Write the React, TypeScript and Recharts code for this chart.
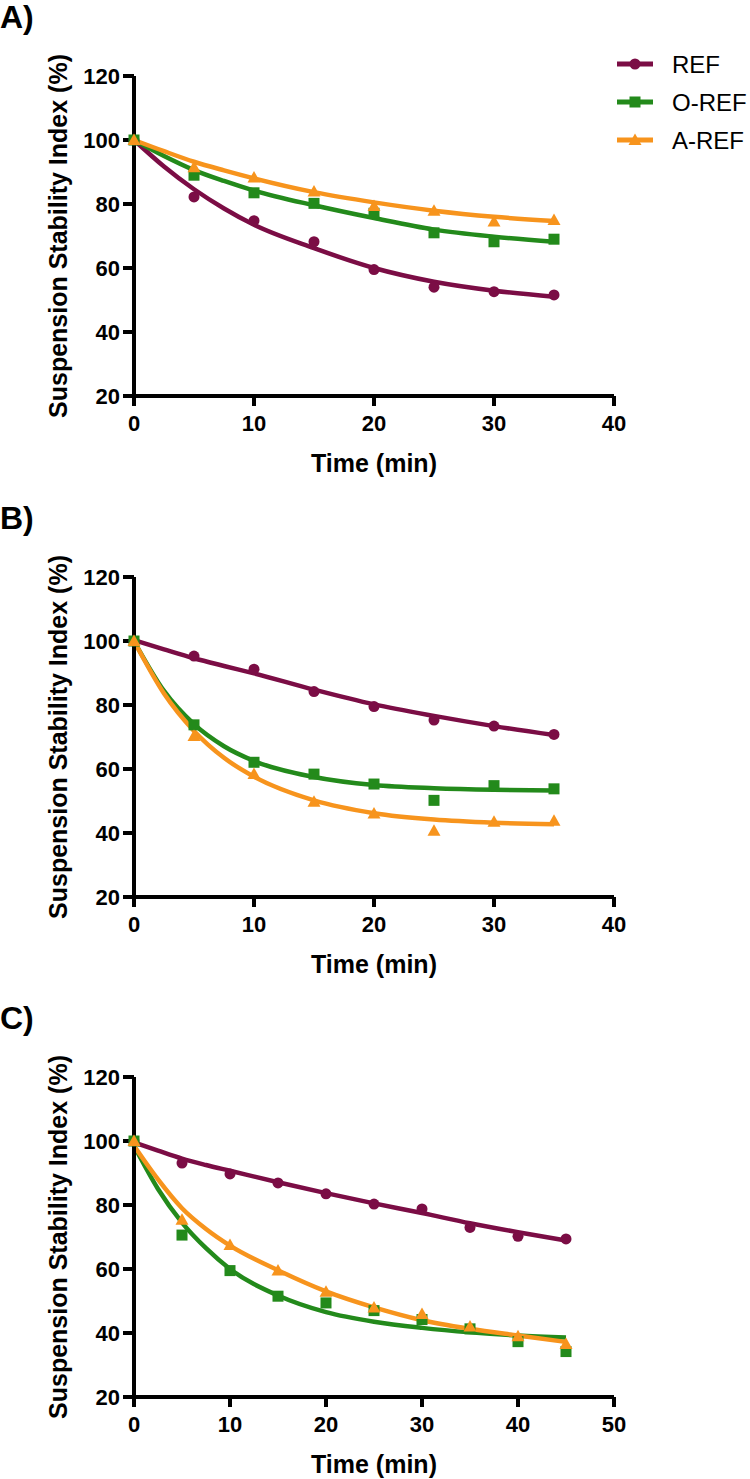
import React from 'react';
import { ComposedChart, Line, Scatter, XAxis, YAxis } from 'recharts';

// sampling times
const timesAB = [0, 5, 10, 15, 20, 25, 30, 35];
const timesC = [0, 5, 10, 15, 20, 25, 30, 35, 40, 45];
const fitTimesAB = [0, 2.5, 5, 7.5, 10, 15, 20, 25, 30, 35];
const fitTimesC = [0, 2.5, 5, 7.5, 10, 15, 20, 25, 30, 35, 40, 45];

const ticksY = [20, 40, 60, 80, 100, 120];
const ticksAB = [0, 10, 20, 30, 40];
const ticksC = [0, 10, 20, 30, 40, 50];

const seriesNames = ['REF', 'O-REF', 'A-REF'];

// A) measured
const refA = [100, 82.2, 74.8, 68.2, 59.5, 54, 52.6, 51.6];
const orefA = [100, 89, 83.5, 80.2, 77.1, 71, 68.2, 69];
const arefA = [100, 91.5, 88.3, 83.9, 79.4, 77.9, 74.5, 75];
// A) fitted curves
const refFitA = [100, 91.7, 84.6, 78.6, 73.5, 66.2, 60, 55.7, 52.9, 51];
const orefFitA = [100, 95, 90.6, 87.2, 84.2, 79.6, 75.6, 72, 69.8, 68.2];
const arefFitA = [100, 96.5, 93.2, 90.5, 88, 83.7, 80.5, 77.9, 76, 74.7];

// B) measured
const refB = [100, 95.3, 91.2, 84.2, 79.5, 75.3, 73.4, 70.8];
const orefB = [100, 73.8, 62.1, 58.4, 55.3, 50.2, 54.8, 53.8];
const arefB = [100, 70.3, 58.4, 49.8, 46.1, 40.7, 43.5, 43.8];
// B) fitted curves
const refFitB = [100.3, 97.4, 94.6, 92.2, 89.9, 84.8, 80.2, 76.6, 73.4, 70.6];
const orefFitB = [100, 84.4, 74, 67.1, 62.5, 57.5, 55, 54, 53.5, 53.3];
const arefFitB = [100, 83.6, 71.9, 63.5, 57.6, 50.2, 46.2, 44.2, 43.2, 42.7];

// C) measured
const refC = [100, 93.1, 89.7, 86.9, 83.5, 80.3, 78.75, 73, 70.2, 69.4];
const orefC = [100, 70.6, 59.5, 51.5, 49.4, 47, 44.2, 41.3, 37.3, 34.2];
const arefC = [100, 75.4, 67.5, 59.5, 52.9, 48, 45.9, 42, 39, 36.6];
// C) fitted curves
const refFitC = [99.6, 97, 94.5, 92.5, 90.7, 87.1, 83.7, 80.5, 77.5, 74.3, 71.5, 68.9];
const orefFitC = [98.5, 85, 74.5, 66.5, 60, 51.7, 46.5, 43.5, 41.6, 40.2, 39.2, 38.6];
const arefFitC = [98.5, 88, 79, 72.5, 67.3, 59.6, 53, 48, 44, 41.3, 39.2, 37.2];

const colors = ['#7b0d45', '#238a1b', '#f7941d'];
const font = 'Liberation Sans, Arial, Helvetica, sans-serif';

const pairs = (xs: number[], ys: number[]) => xs.map((x, i) => ({ x, y: ys[i] }));

const Marker = ({ kind, cx, cy, color }: any) => {
  if (cx == null || cy == null) return null;
  if (kind === 0) return <circle cx={cx} cy={cy} r={5.5} fill={color} />;
  if (kind === 1) return <rect x={cx - 5.5} y={cy - 5.5} width={11} height={11} fill={color} />;
  return <polygon points={`${cx},${cy - 6.5} ${cx + 6.5},${cy + 5} ${cx - 6.5},${cy + 5}`} fill={color} />;
};

const Legend = () => (
  <g>
    {seriesNames.map((n, i) => {
      const y = 64 + i * 38;
      return (
        <g key={n}>
          <line x1={617} x2={653} y1={y} y2={y} stroke={colors[i]} strokeWidth={5} />
          <Marker kind={i} cx={635} cy={y} color={colors[i]} />
          <text x={672} y={y + 8.5} fontSize={24} fontFamily={font} fill="#000">{n}</text>
        </g>
      );
    })}
  </g>
);

type PanelProps = {
  tag: string;
  xMax: number;
  xTicks: number[];
  points: { x: number; y: number }[][];
  fits: { x: number; y: number }[][];
  legend?: boolean;
};

const Panel = ({ tag, xMax, xTicks, points, fits, legend }: PanelProps) => (
  <ComposedChart width={750} height={500} margin={{ top: 76, right: 136, bottom: 34, left: 0 }}>
    <XAxis
      type="number"
      dataKey="x"
      domain={[0, xMax]}
      ticks={xTicks}
      height={70}
      axisLine={{ stroke: '#000', strokeWidth: 4 }}
      tickLine={{ stroke: '#000', strokeWidth: 4 }}
      tickSize={10}
      tickMargin={9}
      tick={{ fill: '#000', fontSize: 22, fontWeight: 'bold', fontFamily: font }}
      label={{
        content: ({ viewBox }: any) => (
          <text x={viewBox.x + viewBox.width / 2} y={viewBox.y + 76} textAnchor="middle"
            fontSize={25} fontWeight="bold" fontFamily={font} fill="#000">Time (min)</text>
        ),
      }}
    />
    <YAxis
      type="number"
      dataKey="y"
      domain={[20, 120]}
      ticks={ticksY}
      width={134}
      allowDataOverflow
      axisLine={{ stroke: '#000', strokeWidth: 4 }}
      tickLine={{ stroke: '#000', strokeWidth: 4 }}
      tickSize={11}
      tickMargin={3}
      tick={{ fill: '#000', fontSize: 22, fontWeight: 'bold', fontFamily: font }}
      label={{
        content: ({ viewBox }: any) => {
          const cy = viewBox.y + viewBox.height / 2;
          return (
            <g>
              <text x={0} y={28} fontSize={32} fontWeight="bold" fontFamily={font} fill="#000">{tag}</text>
              <text x={67} y={cy} transform={`rotate(-90 67 ${cy})`} textAnchor="middle"
                fontSize={25} fontWeight="bold" fontFamily={font} fill="#000">
                Suspension Stability Index (%)
              </text>
              {legend ? <Legend /> : null}
            </g>
          );
        },
      }}
    />
    {points.map((d, i) => (
      <Scatter key={`p${i}`} data={d} dataKey="y" isAnimationActive={false}
        shape={(p: any) => <Marker kind={i} cx={p.cx} cy={p.cy} color={colors[i]} />} />
    ))}
    {fits.map((d, i) => (
      <Line key={`f${i}`} data={d} dataKey="y" type="monotone" stroke={colors[i]} strokeWidth={4.5}
        dot={false} activeDot={false} isAnimationActive={false} />
    ))}
  </ComposedChart>
);

export default function App() {
  return (
    <div style={{ width: 750, height: 1479, position: 'relative', background: '#fff' }}>
      <style>{'body{margin:0}'}</style>
      <div style={{ position: 'absolute', top: 0, left: 0 }}>
        <Panel tag="A)" xMax={40} xTicks={ticksAB} legend
          points={[pairs(timesAB, refA), pairs(timesAB, orefA), pairs(timesAB, arefA)]}
          fits={[pairs(fitTimesAB, refFitA), pairs(fitTimesAB, orefFitA), pairs(fitTimesAB, arefFitA)]} />
      </div>
      <div style={{ position: 'absolute', top: 501, left: 0 }}>
        <Panel tag="B)" xMax={40} xTicks={ticksAB}
          points={[pairs(timesAB, refB), pairs(timesAB, orefB), pairs(timesAB, arefB)]}
          fits={[pairs(fitTimesAB, refFitB), pairs(fitTimesAB, orefFitB), pairs(fitTimesAB, arefFitB)]} />
      </div>
      <div style={{ position: 'absolute', top: 1001, left: 0 }}>
        <Panel tag="C)" xMax={50} xTicks={ticksC}
          points={[pairs(timesC, refC), pairs(timesC, orefC), pairs(timesC, arefC)]}
          fits={[pairs(fitTimesC, refFitC), pairs(fitTimesC, orefFitC), pairs(fitTimesC, arefFitC)]} />
      </div>
    </div>
  );
}
